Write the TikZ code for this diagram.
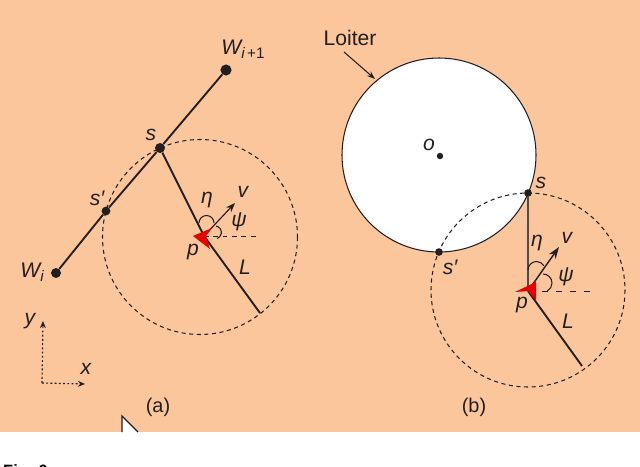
\documentclass[tikz,border=0pt]{standalone}
\usepackage{fontspec}
\setmainfont{Liberation Sans}
\usepackage{xcolor}
\usetikzlibrary{arrows.meta}
\definecolor{PanelColor}{RGB}{251,198,156}
\definecolor{InkColor}{RGB}{35,31,32}
\newcommand{\subtxt}[1]{\raisebox{-3.5pt}{\fontsize{13}{13}\selectfont #1}}
\tikzset{
  dot/.style={circle, fill=InkColor, inner sep=0pt, minimum size=#1},
  txt/.style={font=\itshape\fontsize{18}{18}\selectfont, text=InkColor, inner sep=0pt},
  plain/.style={font=\fontsize{17}{17}\selectfont, text=InkColor, inner sep=0pt},
  leg/.style={InkColor, line width=1.6pt},
  reach/.style={InkColor, dash pattern=on 3.5pt off 3pt, line width=0.9pt},
  heading/.style={InkColor, dash pattern=on 4pt off 4pt, line width=0.6pt},
  anglearc/.style={InkColor, line width=0.9pt},
  vee/.style={-{Stealth[length=10pt,width=7pt]}, InkColor, line width=1.2pt},
  axisline/.style={-{Stealth[length=6pt,width=5pt]}, InkColor, dash pattern=on 1.6pt off 2pt, line width=1pt}
}
\begin{document}
\begin{tikzpicture}[x=0.03cm, y=-0.03cm]
  \useasboundingbox (0,0) rectangle (640,466);
  \fill[PanelColor] (0,0) rectangle (640,432);

  % panel (a)
  \node[dot=9.5pt] (wnext) at (226,70) {};
  \node[dot=8.5pt] (sa) at (160,148) {};
  \node[dot=7.5pt] (sb) at (106,211) {};
  \node[dot=8.5pt] (wprev) at (56,273) {};
  \coordinate (pa) at (204,236);
  \coordinate (la) at (260,313);
  \coordinate (va) at (235,203);
  \coordinate (ha) at (256,236);
  \draw[reach] (200,237) circle (97.5);
  \draw[leg] (wprev) -- (sb) -- (sa) -- (wnext);
  \draw[leg] (sa) -- (pa) -- (la);
  \draw[vee, -{Stealth[length=8pt,width=6pt]}, line width=1pt] (pa) -- (va);
  \draw[heading] (pa) -- (ha);
  \fill[red!90!black] (193,236) -- (212,228) -- (206,236) -- (210,249) -- cycle;
  \draw[anglearc] (199,223) arc (180:360:7.5);
  \draw[anglearc] (216,226) arc (-80:70:6.5);

  \node[txt] at (243,49) {W\subtxt{\itshape i\,\upshape +1}};
  \node[txt] at (151,135) {s};
  \node[txt] at (97,198) {s′};
  \node[txt] at (32,272) {W\subtxt{\itshape i}};
  \node[txt] at (207,200) {η};
  \node[txt] at (243,192) {v};
  \node[txt] at (239,222) {ψ};
  \node[txt] at (193,252) {p};
  \node[txt] at (245,267) {L};
  \node[txt] at (30,321) {y};
  \node[txt] at (86,369) {x};

  \coordinate (origin) at (42,383);
  \coordinate (yend) at (43,321);
  \coordinate (xend) at (85,384);
  \draw[axisline] (origin) -- (yend);
  \draw[axisline] (origin) -- (xend);
  \node[plain] at (158,407) {(a)};

  % cursor
  \fill[white] (122,416) -- (122,432) -- (138,432) -- cycle;
  \draw[InkColor, line width=1pt] (122,432) -- (122,416) -- (138,432);

  % panel (b)
  \coordinate (oc) at (439,155);
  \draw[InkColor, fill=white, line width=0.9pt] (oc) circle (97);
  \node[dot=5.5pt] (ob) at (440,156) {};
  \draw[reach] (528,290) circle (97);
  \node[dot=6.5pt] (sc) at (528,193) {};
  \node[dot=6.5pt] (sd) at (439,252) {};
  \coordinate (pb) at (528,291);
  \coordinate (lb) at (582,366);
  \coordinate (vb) at (559,247);
  \coordinate (hb) at (592,291);
  \draw[leg, InkColor!80] (sc) -- (pb);
  \draw[leg] (pb) -- (lb);
  \draw[vee] (pb) -- (vb);
  \draw[heading, dash pattern=on 5pt off 7pt] (pb) -- (hb);
  \fill[red!90!black] (515,292) -- (536,282) -- (536,301) -- (528,291) -- cycle;
  \draw[anglearc] (528,270) arc (180:330:8.5);
  \draw[anglearc] (543,274) arc (-90:60:9);

  \node[txt] at (541,183) {s};
  \node[txt] at (450,267) {s′};
  \node[txt] at (537,243) {η};
  \node[txt] at (567,238) {v};
  \node[txt] at (566,277) {ψ};
  \node[txt] at (522,305) {p};
  \node[txt] at (568,321) {L};
  \node[txt] at (429,145) {o};
  \node[plain, font=\fontsize{18}{18}\selectfont] (loiter) at (350,38) {Loiter};
  \coordinate (loitertip) at (375,79);
  \draw[-{Stealth[length=7pt,width=5pt]}, InkColor, line width=0.9pt] (344,52) -- (loitertip);
  \node[plain] at (474,407) {(b)};

  \node[font=\bfseries\fontsize{14}{14}\selectfont, anchor=base west, inner sep=0pt] (fig) at (3,476) {Fig. 6};
\end{tikzpicture}
\end{document}
